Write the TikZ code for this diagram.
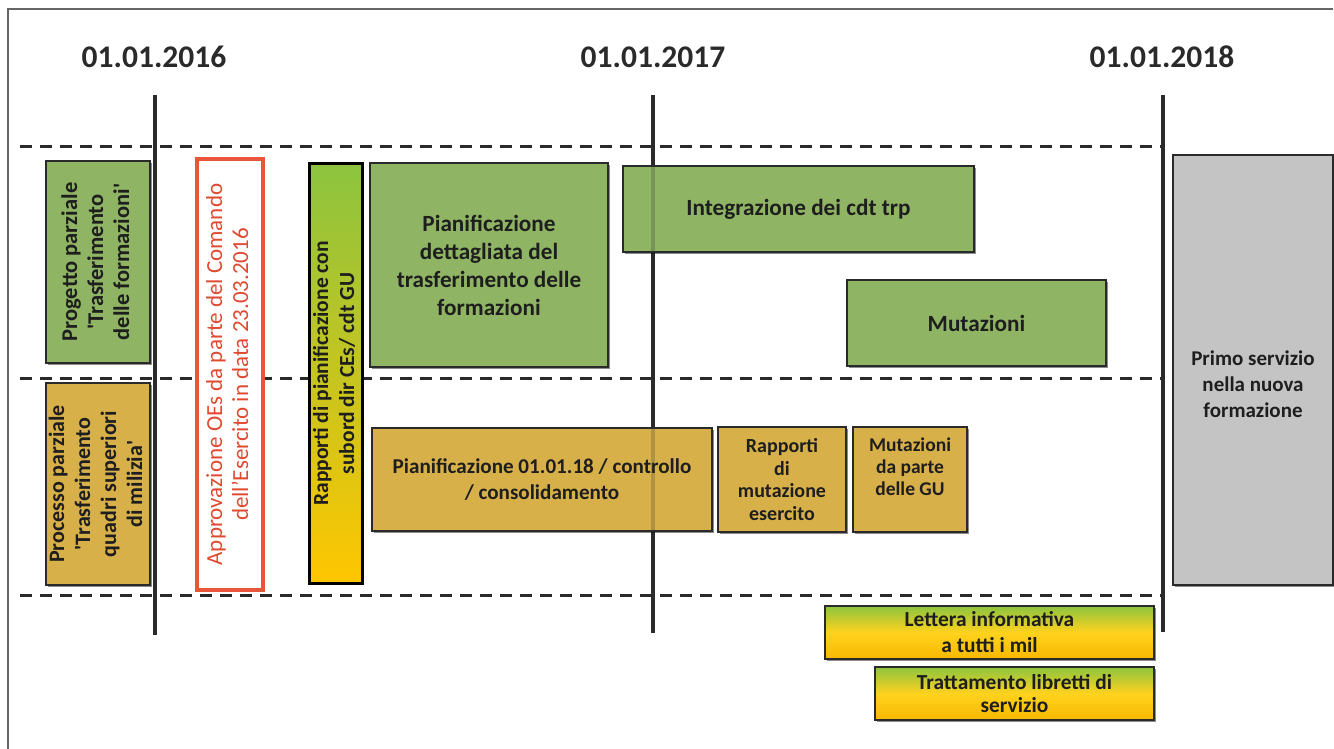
\documentclass[tikz,border=0pt]{standalone}
\usepackage{fontspec}
\setmainfont{Carlito}
\usetikzlibrary{shadows}
\definecolor{ink}{HTML}{2A2A2A}
\definecolor{txt}{HTML}{1E1E1E}
\definecolor{grn}{HTML}{8FB464}
\definecolor{gld}{HTML}{D8B04A}
\definecolor{gry}{HTML}{C4C4C4}
\definecolor{redb}{HTML}{E8553C}
\definecolor{redt}{HTML}{E04A30}
\definecolor{gradg}{HTML}{8CC43F}
\definecolor{grady}{HTML}{FFD21E}
\definecolor{grado}{HTML}{F8B800}
\definecolor{gradb}{HTML}{FFC600}
\newcommand{\vtext}[1]{\rotatebox{90}{\begin{tabular}{@{}c@{}}#1\end{tabular}}}
\newcommand{\sq}{\textquotesingle}
\tikzset{
  box/.style={draw=ink, line width=1.4pt, inner sep=0pt, align=center, text=txt,
    font=\fontsize{23.2}{28}\selectfont\bfseries,
    drop shadow={shadow xshift=1.8pt, shadow yshift=-1.8pt, opacity=0.45, fill=black}},
  greenbox/.style={box, fill=grn},
  goldbox/.style={box, fill=gld},
  graybox/.style={box, fill=gry},
  gradbox/.style={box, top color=gradg, bottom color=grado, middle color=grady},
  redbox/.style={draw=redb, line width=4pt, fill=white, inner sep=0pt, text=redt,
    font=\fontsize{23}{26}\selectfont},
  blackbox/.style={draw=black, line width=3pt, inner sep=0pt, text=txt,
    top color=gradg, bottom color=gradb,
    font=\fontsize{21.5}{26}\selectfont\bfseries},
  plain/.style={inner sep=0pt, align=center, text=txt, font=\fontsize{21}{26}\selectfont\bfseries},
  datelbl/.style={inner sep=0pt, text=ink, font=\fontsize{31.5}{36}\selectfont\bfseries},
  tline/.style={draw=ink, line width=3.2pt},
  tlinefaint/.style={draw=ink, line width=3.2pt, draw opacity=0.22},
  dline/.style={draw=ink, line width=3pt, dash pattern=on 12pt off 8pt},
  frameline/.style={draw=black!60, line width=1.3pt}
}
\begin{document}
\begin{tikzpicture}[x=1pt,y=-1pt]
\useasboundingbox[fill=white] (0,0) rectangle (1334,749);
% frame
\coordinate (fbl) at (8,749);
\coordinate (ftl) at (8,9);
\coordinate (ftr) at (1333,9);
\draw[frameline] (fbl) -- (ftl) -- (ftr);
% dates
\node[datelbl] (d16) at (154,57) {01.01.2016};
\node[datelbl] (d17) at (653,57) {01.01.2017};
\node[datelbl] (d18) at (1162,57) {01.01.2018};
% time lines
\coordinate (t16) at (155,95); \coordinate (b16) at (155,635);
\coordinate (t17) at (653,95); \coordinate (b17) at (653,633);
\coordinate (t18) at (1163,95); \coordinate (b18) at (1163,632);
\draw[tline] (t16) -- (b16);
\draw[tline] (t17) -- (b17);
\draw[tline] (t18) -- (b18);
% dashed lanes
\coordinate (h1l) at (20,147); \coordinate (h1r) at (1163,147);
\coordinate (h2l) at (20,378); \coordinate (h2r) at (1163,378);
\coordinate (h3l) at (20,595); \coordinate (h3r) at (1163,595);
\draw[dline] (h1l) -- (h1r);
\draw[dline] (h2l) -- (h2r);
\draw[dline] (h3l) -- (h3r);
% left column
\node[greenbox, minimum width=104pt, minimum height=202pt,
  font=\fontsize{22.5}{26}\selectfont\bfseries] (prog) at (98,262)
  {\vtext{Progetto parziale\\\sq Trasferimento\\delle formazioni\sq}};
\node[goldbox, minimum width=104pt, minimum height=202pt,
  font=\fontsize{22}{26}\selectfont\bfseries] (proc) at (98,484)
  {\vtext{Processo parziale\\\sq Trasferimento\\quadri superiori\\di milizia\sq}};
\node[redbox, minimum width=66pt, minimum height=431pt] (appr) at (230,374.5)
  {\vtext{Approvazione OEs da parte del Comando\\dell’Esercito in data 23.03.2016}};
\node[blackbox, minimum width=53pt, minimum height=420pt] (rapp) at (336,373.5)
  {\vtext{Rapporti di pianificazione con\\subord dir CEs/ cdt GU}};
% upper lane
\node[greenbox, minimum width=238pt, minimum height=204pt] (pdet) at (489,265)
  {Pianificazione\\dettagliata del\\trasferimento delle\\formazioni};
\node[greenbox, minimum width=351pt, minimum height=86pt] (integ) at (798.5,209)
  {Integrazione dei cdt trp};
\node[greenbox, minimum width=259pt, minimum height=86pt] (mut) at (976.5,323)
  {Mutazioni};
% lower lane
\node[goldbox, minimum width=340pt, minimum height=103pt,
  font=\fontsize{21.1}{26}\selectfont\bfseries] (p18) at (542,479.5)
  {Pianificazione 01.01.18 / controllo\\/ consolidamento};
\node[goldbox, minimum width=128pt, minimum height=105pt,
  font=\fontsize{20}{22.5}\selectfont\bfseries] (rmut) at (782,479.5)
  {Rapporti\\di\\mutazione\\esercito};
\node[goldbox, minimum width=114pt, minimum height=105pt] (mgu) at (910,479.5) {};
\node[plain, font=\fontsize{19.5}{22}\selectfont\bfseries] (mgut) at (910,467)
  {Mutazioni\\da parte\\delle GU};
% right column
\node[graybox, minimum width=160pt, minimum height=430pt] (primo) at (1253,370) {};
\node[plain] (primot) at (1253,384) {Primo servizio\\nella nuova\\formazione};
% bottom
\node[gradbox, minimum width=329pt, minimum height=53pt,
  font=\fontsize{21.4}{26}\selectfont\bfseries] (lett) at (989.5,632.5)
  {Lettera informativa\\a tutti i mil};
\node[gradbox, minimum width=279pt, minimum height=53pt,
  font=\fontsize{21.4}{23}\selectfont\bfseries] (tratt) at (1014.5,693.5)
  {Trattamento libretti di\\servizio};
% lines seen through boxes
\draw[tlinefaint] (t17) -- (b17);
\end{tikzpicture}
\end{document}
